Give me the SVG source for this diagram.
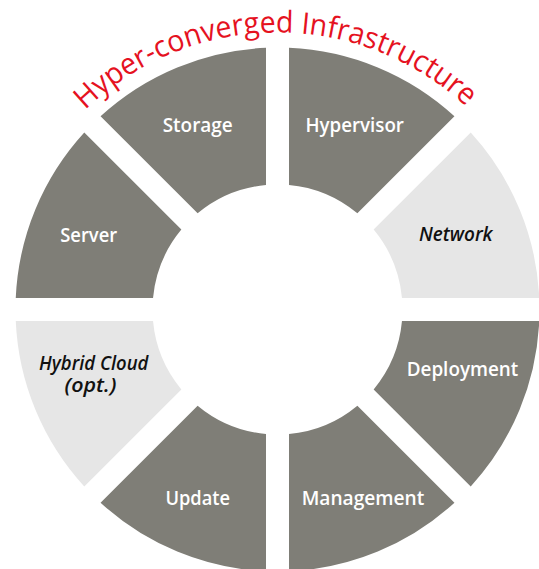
<svg xmlns="http://www.w3.org/2000/svg" xmlns:xlink="http://www.w3.org/1999/xlink" width="539" height="569" viewBox="0 0 539 569">
  <style>
    .dark { fill: #7f7e77; }
    .light { fill: #e6e6e6; }
    .lbl { font-family: "Open Sans", "Liberation Sans", sans-serif; font-size: 20px; font-weight: 600; text-anchor: middle; }
    .w { fill: #ffffff; }
    .k { fill: #111111; font-style: italic; }
    .title { font-family: "Open Sans", "Liberation Sans", sans-serif; font-size: 30px; fill: #e5121f; }
  </style>
  <defs>
    <path id="seg" d="M-11.5,-261.747 L-11.5,-124.47 A125,125 0 0 0 -79.882,-96.146 L-176.951,-193.215 A262,262 0 0 1 -11.5,-261.747 Z"/>
    <path id="titleArc" d="M37.6,171 A277,277 0 0 1 517.4,171"/>
  </defs>
  <rect width="539" height="569" fill="#ffffff"/>

  <g id="title">
    <text class="title"><textPath xlink:href="#titleArc" href="#titleArc" startOffset="77.4" textLength="420" lengthAdjust="spacingAndGlyphs">Hyper-converged Infrastructure</textPath></text>
  </g>

  <g id="connectors"></g>

  <g id="storage">
    <use href="#seg" xlink:href="#seg" class="dark" transform="translate(277.5 309.5)"/>
    <text class="lbl w" x="197.7" y="131.5" textLength="70" lengthAdjust="spacingAndGlyphs">Storage</text>
  </g>
  <g id="hypervisor">
    <use href="#seg" xlink:href="#seg" class="dark" transform="translate(277.5 309.5) rotate(45)"/>
    <text class="lbl w" x="354.7" y="131.5" textLength="98.5" lengthAdjust="spacingAndGlyphs">Hypervisor</text>
  </g>
  <g id="network">
    <use href="#seg" xlink:href="#seg" class="light" transform="translate(277.5 309.5) rotate(90)"/>
    <text class="lbl k" x="455.8" y="241" textLength="73.7" lengthAdjust="spacingAndGlyphs">Network</text>
  </g>
  <g id="deployment">
    <use href="#seg" xlink:href="#seg" class="dark" transform="translate(277.5 309.5) rotate(135)"/>
    <text class="lbl w" x="462.5" y="376" textLength="111.6" lengthAdjust="spacingAndGlyphs">Deployment</text>
  </g>
  <g id="management">
    <use href="#seg" xlink:href="#seg" class="dark" transform="translate(277.5 309.5) rotate(180)"/>
    <text class="lbl w" x="363" y="505" textLength="122.7" lengthAdjust="spacingAndGlyphs">Management</text>
  </g>
  <g id="update">
    <use href="#seg" xlink:href="#seg" class="dark" transform="translate(277.5 309.5) rotate(225)"/>
    <text class="lbl w" x="197.7" y="505" textLength="64.6" lengthAdjust="spacingAndGlyphs">Update</text>
  </g>
  <g id="hybrid-cloud">
    <use href="#seg" xlink:href="#seg" class="light" transform="translate(277.5 309.5) rotate(270)"/>
    <text class="lbl k" x="93.7" y="370" textLength="109.3" lengthAdjust="spacingAndGlyphs">Hybrid Cloud</text>
    <text class="lbl k" x="90.5" y="392" textLength="52" lengthAdjust="spacingAndGlyphs">(opt.)</text>
  </g>
  <g id="server">
    <use href="#seg" xlink:href="#seg" class="dark" transform="translate(277.5 309.5) rotate(315)"/>
    <text class="lbl w" x="88.7" y="242.3" textLength="57" lengthAdjust="spacingAndGlyphs">Server</text>
  </g>
</svg>
